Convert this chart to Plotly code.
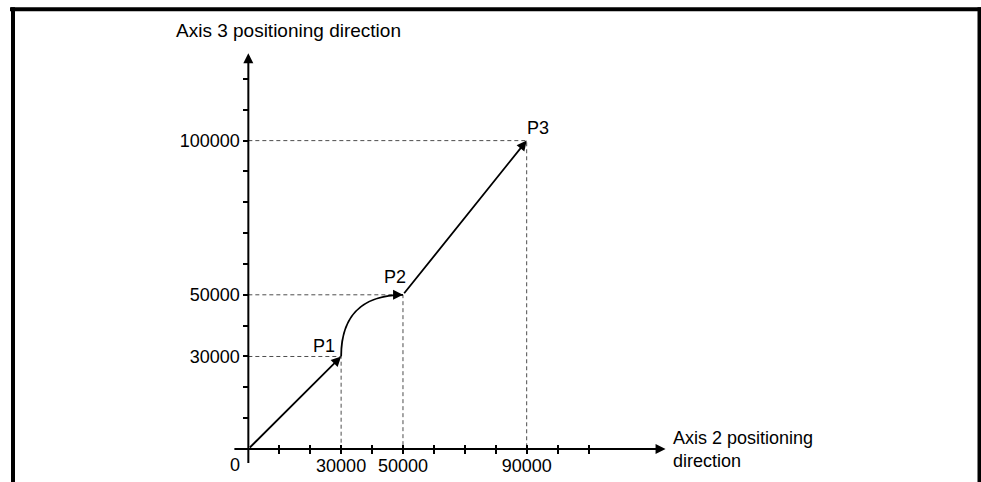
import plotly.graph_objects as go

# path points (axis 2 = x, axis 3 = y)
point_names = ["P1", "P2", "P3"]
point_x = [30000, 50000, 90000]
point_y = [30000, 50000, 100000]

# tick marks along both axes and the few that carry a label
x_ticks = [10000, 20000, 30000, 40000, 50000, 60000, 70000, 80000, 90000, 100000, 110000]
y_ticks = [10000, 20000, 30000, 40000, 50000, 60000, 70000, 80000, 90000, 100000, 110000, 120000]
x_labels = {30000: "30000", 50000: "50000", 90000: "90000"}
y_labels = {30000: "30000", 50000: "50000", 100000: "100000"}

x_title = "Axis 2 positioning<br>direction"
y_title = "Axis 3 positioning direction"

# layout
W, H = 981, 482
X_RANGE = [-80300, 236900]
Y_RANGE = [-10700, 145600]
X_AXIS_EXTENT = [-5000, 134900]
Y_AXIS_EXTENT = [-5000, 128300]
FONT = dict(family="Liberation Sans, Arial, sans-serif", size=18, color="black")
GUIDE = dict(color="#4d4d4d", width=1, dash="4px,3px")

x_axis_pos = (0 - Y_RANGE[0]) / (Y_RANGE[1] - Y_RANGE[0])
y_axis_pos = (0 - X_RANGE[0]) / (X_RANGE[1] - X_RANGE[0])

fig = go.Figure()

# dashed guides from each point back to the axes
for px_, py_ in zip(point_x, point_y):
    fig.add_trace(go.Scatter(x=[0, px_, px_], y=[py_, py_, 0], mode="lines",
                             line=GUIDE, hoverinfo="skip"))

# helper trace so the overlaid tick axis gets drawn
fig.add_trace(go.Scatter(x=[0], y=[0], xaxis="x2", yaxis="y", mode="markers",
                         marker=dict(opacity=0), hoverinfo="skip"))

arrow = dict(showarrow=True, text="", arrowhead=2, arrowcolor="black",
             axref="x", ayref="y", xref="x", yref="y", standoff=0)

# axes as arrows
fig.add_annotation(x=X_AXIS_EXTENT[1], y=0, ax=X_AXIS_EXTENT[0], ay=0,
                   arrowwidth=2, arrowsize=1, **arrow)
fig.add_annotation(x=0, y=Y_AXIS_EXTENT[1], ax=0, ay=Y_AXIS_EXTENT[0],
                   arrowwidth=2, arrowsize=1, **arrow)

# origin -> P1
fig.add_annotation(x=point_x[0], y=point_y[0], ax=0, ay=0,
                   arrowwidth=1.8, arrowsize=1.1, **arrow)
# P1 -> P2 curve, leaves P1 upward and arrives at P2 horizontally
dx = point_x[1] - point_x[0]
dy = point_y[1] - point_y[0]
c1 = (point_x[0], point_y[0] + 0.8 * dy)
c2 = (point_x[0] + 0.5 * dx, point_y[1])
fig.add_shape(type="path", xref="x", yref="y",
              path=f"M {point_x[0]},{point_y[0]} C {c1[0]},{c1[1]} {c2[0]},{c2[1]} {point_x[1]},{point_y[1]}",
              line=dict(color="black", width=1.8))
fig.add_annotation(x=point_x[1], y=point_y[1], ax=point_x[1] - 0.12 * dx, ay=point_y[1],
                   arrowwidth=1.8, arrowsize=1.1, **arrow)
# P2 -> P3
fig.add_annotation(x=point_x[2], y=point_y[2], ax=point_x[1], ay=point_y[1],
                   arrowwidth=1.8, arrowsize=1.1, **arrow)

# point labels
label_shift = [(-17, 10), (-8, 18), (11, 13)]
for name, px_, py_, (sx, sy) in zip(point_names, point_x, point_y, label_shift):
    fig.add_annotation(x=px_, y=py_, text=name, showarrow=False, xshift=sx, yshift=sy,
                       xanchor="center", yanchor="middle", font=FONT)

fig.add_annotation(x=0, y=0, text="0", showarrow=False, xshift=-13, yshift=-16,
                   xanchor="center", yanchor="middle", font=FONT)

# axis titles
fig.add_annotation(xref="paper", yref="paper", x=174 / W, y=1 - 31 / H, text=y_title,
                   showarrow=False, xanchor="left", yanchor="middle",
                   font=dict(FONT, size=19))
fig.add_annotation(xref="paper", yref="paper", x=671 / W, y=1 - 449 / H, text=x_title,
                   showarrow=False, xanchor="left", yanchor="middle", align="left", font=FONT)

# frame around the figure (open at the bottom)
frame = dict(type="line", xref="paper", yref="paper", line=dict(color="black", width=4))
fig.add_shape(x0=10 / W, x1=1, y0=1 - 9.3 / H, y1=1 - 9.3 / H, **frame)
fig.add_shape(x0=13 / W, x1=13 / W, y0=0, y1=1 - 7.3 / H, **frame)
fig.add_shape(x0=979.5 / W, x1=979.5 / W, y0=0, y1=1 - 7.3 / H, **frame)

tick_common = dict(showgrid=False, zeroline=False, showline=False, tickmode="array",
                   tickcolor="black", tickwidth=1.5, anchor="free", tickfont=FONT,
                   fixedrange=True)

fig.update_layout(
    width=W,
    height=H,
    margin=dict(l=0, r=0, t=0, b=0),
    paper_bgcolor="white",
    plot_bgcolor="white",
    showlegend=False,
    xaxis=dict(range=X_RANGE, tickvals=x_ticks,
               ticktext=[x_labels.get(v, "") for v in x_ticks],
               ticks="outside", ticklen=4, ticklabelstandoff=-4,
               position=x_axis_pos, **tick_common),
    xaxis2=dict(range=X_RANGE, tickvals=x_ticks, overlaying="x", showticklabels=False,
                ticks="inside", ticklen=4, position=x_axis_pos, **tick_common),
    yaxis=dict(range=Y_RANGE, tickvals=y_ticks,
               ticktext=[y_labels.get(v, "") for v in y_ticks],
               ticks="outside", ticklen=5, position=y_axis_pos, **tick_common),
)

fig.write_html("out.html", config={"displayModeBar": False},
               post_script="document.body.style.margin='0';")
